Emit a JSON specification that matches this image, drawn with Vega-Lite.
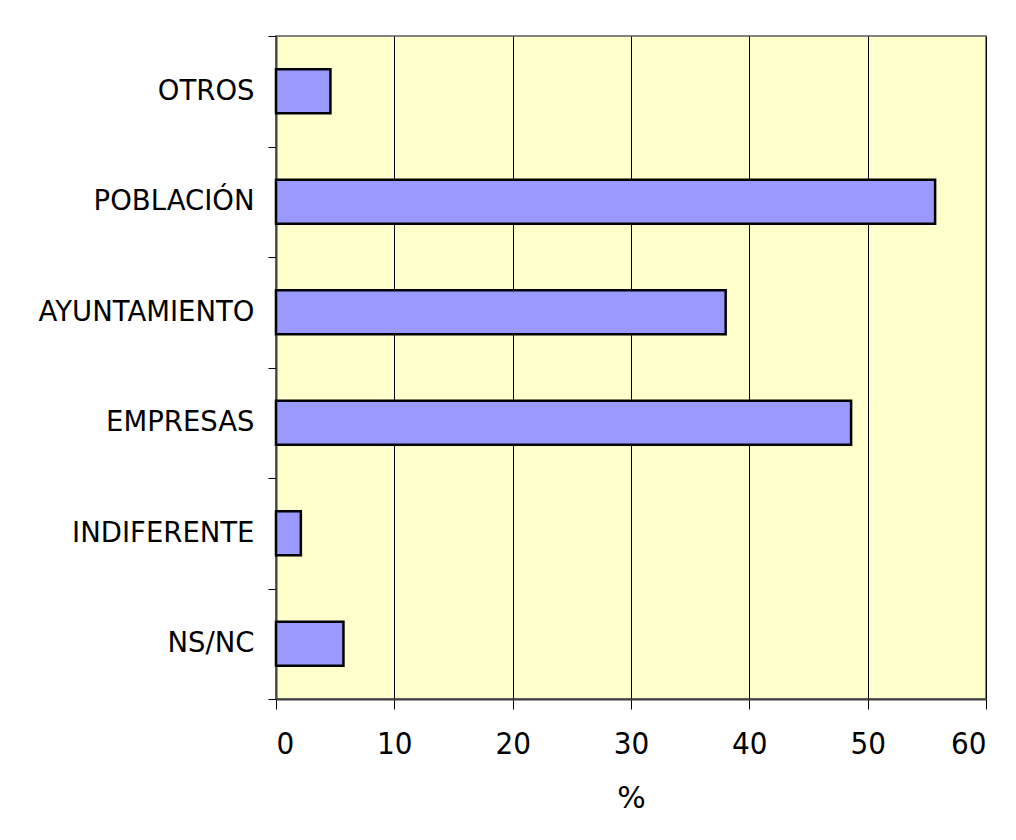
{
  "$schema": "https://vega.github.io/schema/vega-lite/v6.json",
  "width": 710,
  "height": 663,
  "autosize": {"type": "none"},
  "padding": {"left": 276, "top": 36, "right": 30, "bottom": 141},
  "background": "white",
  "config": {
    "view": {"fill": "#FFFFCC", "stroke": "#808080", "strokeWidth": 2},
    "font": "DejaVu Sans"
  },
  "data": {
    "values": [
      {"categoria": "OTROS", "pct": 4.6},
      {"categoria": "POBLACIÓN", "pct": 55.7},
      {"categoria": "AYUNTAMIENTO", "pct": 38.0},
      {"categoria": "EMPRESAS", "pct": 48.6},
      {"categoria": "INDIFERENTE", "pct": 2.1},
      {"categoria": "NS/NC", "pct": 5.7}
    ]
  },
  "mark": {"type": "bar", "fill": "#9999FF", "stroke": "black", "strokeWidth": 2.5, "height": {"band": 0.4}},
  "encoding": {
    "y": {
      "field": "categoria",
      "type": "nominal",
      "sort": null,
      "scale": {"paddingInner": 0, "paddingOuter": 0},
      "axis": {
        "title": null,
        "tickBand": "extent",
        "tickSize": 8,
        "tickColor": "black",
        "domainColor": "#404040",
        "domainWidth": 2,
        "labelFontSize": 27.5,
        "labelColor": "black",
        "labelPadding": 14,
        "labelLimit": 0,
        "labelFont": "DejaVu Sans"
      }
    },
    "x": {
      "field": "pct",
      "type": "quantitative",
      "scale": {"domain": [0, 60], "nice": false},
      "axis": {
        "title": "%",
        "values": [0, 10, 20, 30, 40, 50, 60],
        "grid": true,
        "gridColor": "black",
        "gridOpacity": 1,
        "tickSize": 10,
        "tickColor": "black",
        "domainColor": "#404040",
        "domainWidth": 2,
        "labelFontSize": 31,
        "labelColor": "black",
        "labelPadding": 20,
        "labelFont": "DejaVu Sans Condensed",
        "titleFontSize": 30,
        "titleFontWeight": "normal",
        "titleColor": "black",
        "titleFont": "DejaVu Sans",
        "titlePadding": 24
      }
    }
  }
}
